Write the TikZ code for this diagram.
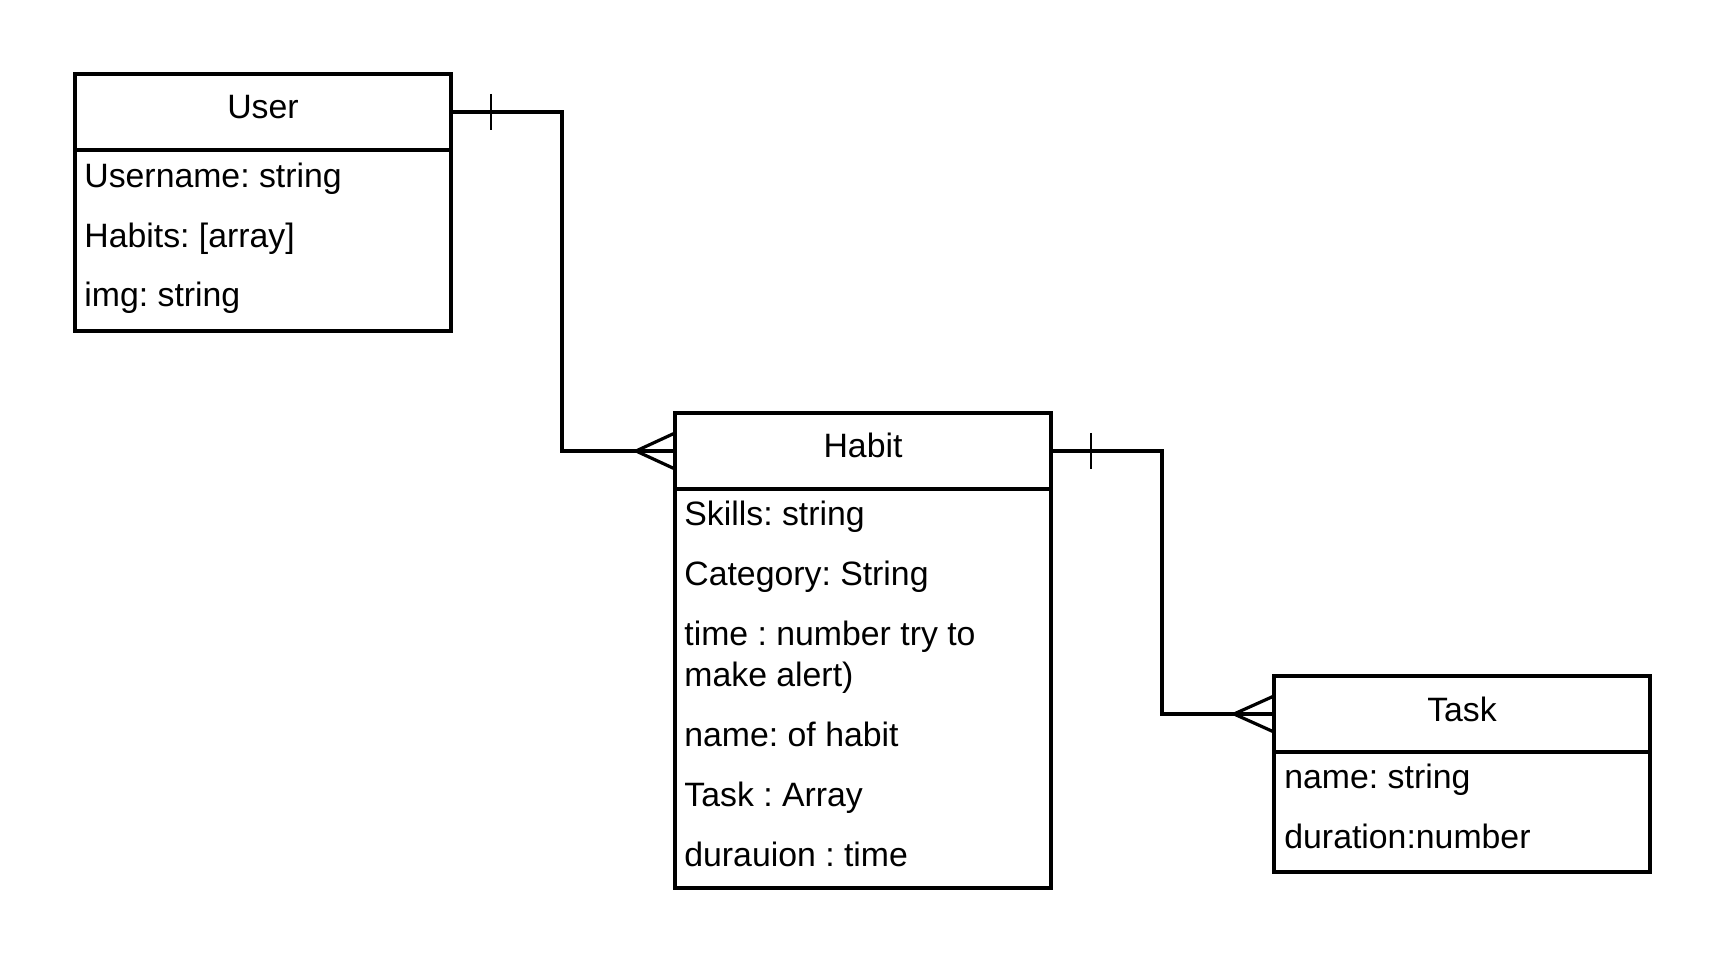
\documentclass[tikz,border=0pt]{standalone}
\usepackage{fontspec}
\setmainfont{Liberation Sans}
\frenchspacing
\usetikzlibrary{positioning}
\tikzset{
  hdr/.style={draw, line width=1.75pt, minimum width=188pt, minimum height=38pt, inner sep=0pt, outer sep=0pt, text height=12pt, text depth=5pt, font=\fontsize{16.9}{20}\selectfont},
  bdy/.style={draw, line width=1.75pt, minimum width=188pt, inner sep=0pt, outer sep=0pt},
  attr/.style={anchor=base west, inner sep=0pt, font=\fontsize{16.9}{20}\selectfont},
  rel/.style={line width=1.6pt},
  onemark/.style={line width=1.2pt},
}
\begin{document}
\begin{tikzpicture}[x=0.5pt, y=-0.5pt]
\useasboundingbox (0,0) rectangle (1725,962);
% User
\node[hdr, anchor=north west] (user) at (75,74) {User};
\node[bdy, minimum height=90.5pt, below=0pt of user] (userbody) {};
\node[attr] (u1) at (84,188) {Username: string};
\node[attr] (u2) at (84,248) {Habits: [array]};
\node[attr] (u3) at (84,307) {img: string};
% Habit
\node[hdr, anchor=north west] (habit) at (675,413) {Habit};
\node[bdy, minimum height=199.5pt, below=0pt of habit] (habitbody) {};
\node[attr] (h1) at (684,526) {Skills: string};
\node[attr] (h2) at (684,586) {Category: String};
\node[attr] (h3) at (684,646) {time : number try to};
\node[attr] (h4) at (684,686) {make alert)};
\node[attr] (h5) at (684,746) {name: of habit};
\node[attr] (h6) at (684,806) {Task : Array};
\node[attr] (h7) at (684,866) {durauion : time};
% Task
\node[hdr, anchor=north west] (task) at (1274,676) {Task};
\node[bdy, minimum height=60pt, below=0pt of task] (taskbody) {};
\node[attr] (t1) at (1284,788) {name: string};
\node[attr] (t2) at (1284,848) {duration:number};
% relations
\coordinate (bend1) at (562,0);
\coordinate (bend2) at (1162,0);
\draw[rel] (user.east) -- (user.east -| bend1) |- (habit.west);
\draw[onemark] ([xshift=20pt,yshift=9pt]user.east) -- ([xshift=20pt,yshift=-9pt]user.east);
\draw[rel] ([yshift=9pt]habit.west) -- ([xshift=-19.5pt]habit.west) -- ([yshift=-9pt]habit.west);
\draw[rel] (habit.east) -- (habit.east -| bend2) |- (task.west);
\draw[onemark] ([xshift=20pt,yshift=9pt]habit.east) -- ([xshift=20pt,yshift=-9pt]habit.east);
\draw[rel] ([yshift=9pt]task.west) -- ([xshift=-20pt]task.west) -- ([yshift=-9pt]task.west);
\end{tikzpicture}
\end{document}
